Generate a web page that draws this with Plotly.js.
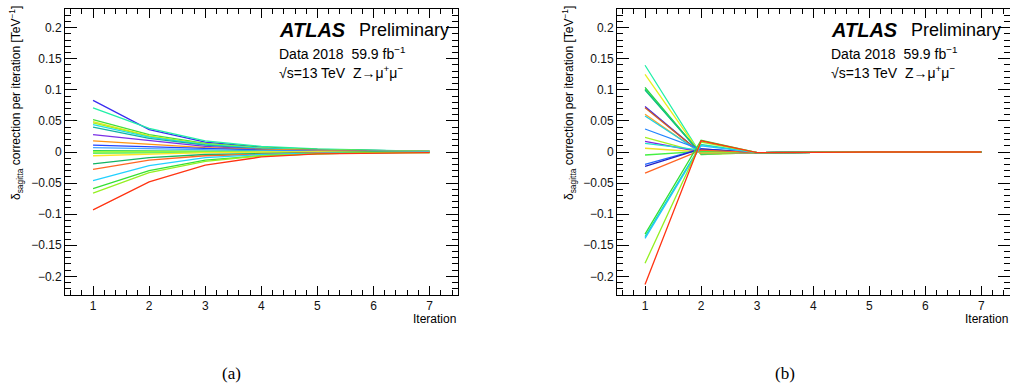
<!DOCTYPE html>
<html><head><meta charset="utf-8">
<script src="https://cdn.plot.ly/plotly-3.0.1.min.js"></script>
<style>html,body{margin:0;padding:0;background:#fff}#chart{width:1010px;height:391px}</style>
</head><body><div id="chart"></div>
<script>
const iterations = [1, 2, 3, 4, 5, 6, 7];
const xTickVals = [1, 2, 3, 4, 5, 6, 7];
const yTickVals = [-0.2, -0.15, -0.1, -0.05, 0, 0.05, 0.1, 0.15, 0.2];
const yTickText = ['\u22120.2', '\u22120.15', '\u22120.1', '\u22120.05', '0', '0.05', '0.1', '0.15', '0.2'];

// ---- panel (a): correction per iteration, one array per bin ----
const a01 = [0.083, 0.036, 0.016, 0.008, 0.004, 0.002, 0.001];
const a02 = [0.071, 0.038, 0.018, 0.009, 0.005, 0.003, 0.001];
const a03 = [0.052, 0.028, 0.014, 0.007, 0.004, 0.002, 0.001];
const a04 = [0.049, 0.026, 0.012, 0.006, 0.003, 0.002, 0.001];
const a05 = [0.047, 0.025, 0.013, 0.006, 0.003, 0.002, 0.001];
const a06 = [0.044, 0.024, 0.012, 0.006, 0.003, 0.002, 0.001];
const a07 = [0.040, 0.022, 0.011, 0.005, 0.003, 0.001, 0.001];
const a08 = [0.028, 0.018, 0.009, 0.004, 0.002, 0.001, 0.000];
const a09 = [0.018, 0.012, 0.007, 0.004, 0.002, 0.001, 0.001];
const a10 = [0.011, 0.008, 0.005, 0.003, 0.001, 0.001, 0.000];
const a11 = [0.007, 0.005, 0.003, 0.002, 0.001, 0.000, 0.000];
const a12 = [0.002, 0.002, 0.001, 0.001, 0.000, 0.000, 0.000];
const a13 = [0.000, 0.000, 0.000, 0.000, 0.000, 0.000, 0.000];
const a14 = [-0.002, -0.001, 0.000, 0.000, 0.000, 0.000, 0.000];
const a15 = [-0.006, -0.003, -0.001, 0.000, 0.000, 0.000, 0.000];
const a16 = [-0.019, -0.009, -0.004, -0.002, -0.001, 0.000, 0.000];
const a17 = [-0.028, -0.013, -0.006, -0.003, -0.001, -0.001, 0.000];
const a18 = [-0.046, -0.022, -0.009, -0.004, -0.002, -0.001, 0.000];
const a19 = [-0.059, -0.030, -0.013, -0.006, -0.003, -0.001, -0.001];
const a20 = [-0.066, -0.033, -0.015, -0.006, -0.003, -0.001, -0.001];
const a21 = [-0.093, -0.048, -0.021, -0.008, -0.003, -0.002, -0.001];

// ---- panel (b) ----
const b01 = [0.1395, -0.004, -0.001, 0, 0, 0, 0];
const b02 = [0.125, -0.004, -0.001, 0, 0, 0, 0];
const b03 = [0.104, -0.003, -0.001, 0, 0, 0, 0];
const b04 = [0.101, -0.003, -0.001, 0, 0, 0, 0];
const b05 = [0.0997, -0.003, -0.001, 0, 0, 0, 0];
const b06 = [0.073, -0.002, -0.001, 0, 0, 0, 0];
const b07 = [0.071, -0.002, -0.001, 0, 0, 0, 0];
const b08 = [0.0606, -0.002, -0.001, 0, 0, 0, 0];
const b09 = [0.058, -0.001, -0.001, 0, 0, 0, 0];
const b10 = [0.037, 0.004, -0.001, 0, 0, 0, 0];
const b11 = [0.0236, -0.001, -0.001, 0, 0, 0, 0];
const b12 = [0.017, 0.000, -0.001, 0, 0, 0, 0];
const b13 = [0.014, 0.003, -0.001, 0, 0, 0, 0];
const b14 = [0.006, 0.000, -0.001, 0, 0, 0, 0];
const b15 = [-0.0048, 0.001, -0.001, 0, 0, 0, 0];
const b16 = [-0.020, 0.005, -0.001, 0, 0, 0, 0];
const b17 = [-0.023, 0.005, -0.001, 0, 0, 0, 0];
const b18 = [-0.034, 0.003, -0.001, 0, 0, 0, 0];
const b19 = [-0.132, 0.019, -0.001, 0, 0, 0, 0];
const b20 = [-0.136, 0.012, -0.001, 0, 0, 0, 0];
const b21 = [-0.139, 0.010, -0.001, 0, 0, 0, 0];
const b22 = [-0.179, 0.016, -0.001, 0, 0, 0, 0];
const b23 = [-0.213, 0.018, -0.001, 0, 0, 0, 0];

const seriesA = [a01, a02, a03, a04, a05, a06, a07, a08, a09, a10, a11, a12, a13, a14, a15, a16, a17, a18, a19, a20, a21];
const seriesB = [b01, b02, b03, b04, b05, b06, b07, b08, b09, b10, b11, b12, b13, b14, b15, b16, b17, b18, b19, b20, b21, b22, b23];

// styles
const colorsA = ['#3a2cf0', '#22f0a8', '#44e03c', '#e8e820', '#a8f020', '#22e0e8', '#12b4a4', '#7a30e6', '#ff9412',
                 '#2244ff', '#44a8ff', '#30d850', '#a4ff22', '#64f064', '#ffe424', '#12b464', '#ff6624', '#22d0ff',
                 '#34e034', '#94f022', '#ff3412'];
const colorsB = ['#22f0a8', '#e8f020', '#22d044', '#34e054', '#12c084', '#4422e2', '#d06024', '#ffa424', '#22d0e0',
                 '#2284ff', '#a4f022', '#8424e2', '#22e0d0', '#f0e022', '#44f044', '#2264ff', '#2222c4', '#ff6424',
                 '#34e034', '#22e0a4', '#22c4ff', '#94f022', '#ff3412'];

const W = 1010, H = 391;
const px = v => v / W, py = v => 1 - v / H;

const traces = [];
seriesA.forEach((s, i) => traces.push({x: iterations, y: s, type: 'scatter', mode: 'lines', xaxis: 'x', yaxis: 'y',
  line: {color: colorsA[i], width: 1.3}, hoverinfo: 'skip', showlegend: false}));
seriesB.forEach((s, i) => traces.push({x: iterations, y: s, type: 'scatter', mode: 'lines', xaxis: 'x2', yaxis: 'y2',
  line: {color: colorsB[i], width: 1.3}, hoverinfo: 'skip', showlegend: false}));

const tickFont = {family: 'Liberation Sans, Arial, sans-serif', size: 12, color: '#111'};
function xax(dom, anchor) {
  return {domain: dom, anchor: anchor, range: [0.5, 7.5], tickmode: 'array', tickvals: xTickVals,
    ticks: 'inside', ticklen: 9, tickwidth: 1, tickcolor: '#000', showline: true, linecolor: '#000', linewidth: 1,
    mirror: 'allticks', showgrid: false, zeroline: false, tickfont: tickFont,
    minor: {ticks: 'inside', dtick: 0.2, tick0: 0, ticklen: 5, tickwidth: 1, tickcolor: '#000', showgrid: false}};
}
function yax(anchor) {
  return {domain: [py(295), py(9)], anchor: anchor, range: [-0.23, 0.23], tickmode: 'array', tickvals: yTickVals,
    ticktext: yTickText, ticks: 'inside', ticklen: 12, tickwidth: 1, tickcolor: '#000', showline: true,
    linecolor: '#000', linewidth: 1, mirror: 'allticks', showgrid: false, zeroline: false, tickfont: tickFont,
    minor: {ticks: 'inside', dtick: 0.01, tick0: 0, ticklen: 6, tickwidth: 1, tickcolor: '#000', showgrid: false}};
}

const sans = 'Liberation Sans, Arial, sans-serif';
const ytitle = '\u03b4<sub>sagitta</sub> correction per iteration [TeV<sup>\u22121</sup>]';
function panelText(x0, xr, ytx) {
  return [
    {x: px(x0), y: py(30), xref: 'paper', yref: 'paper', xanchor: 'left', yanchor: 'middle', showarrow: false,
     text: '<b><i>ATLAS</i></b>', font: {family: sans, size: 20, color: '#000'}},
    {x: px(x0 + 80), y: py(30), xref: 'paper', yref: 'paper', xanchor: 'left', yanchor: 'middle', showarrow: false,
     text: 'Preliminary', font: {family: sans, size: 18, color: '#000'}},
    {x: px(x0), y: py(53), xref: 'paper', yref: 'paper', xanchor: 'left', yanchor: 'middle', showarrow: false,
     text: 'Data 2018\u00a0\u00a059.9 fb<sup>\u22121</sup>', font: {family: sans, size: 14, color: '#000'}},
    {x: px(x0), y: py(72), xref: 'paper', yref: 'paper', xanchor: 'left', yanchor: 'middle', showarrow: false,
     text: '\u221as=13 TeV\u00a0\u00a0Z\u2192\u03bc<sup>+</sup>\u03bc<sup>\u2212</sup>', font: {family: sans, size: 14, color: '#000'}},
    {x: px(xr), y: py(319), xref: 'paper', yref: 'paper', xanchor: 'right', yanchor: 'middle', showarrow: false,
     text: 'Iteration', font: {family: sans, size: 12, color: '#000'}},
    {x: px(ytx), y: py(103), xref: 'paper', yref: 'paper', xanchor: 'center', yanchor: 'middle', showarrow: false,
     textangle: -90, text: ytitle, font: {family: sans, size: 12, color: '#000'}}
  ];
}

const annotations = [
  ...panelText(277, 458, 16),
  ...panelText(829, 1010, 569),
  {x: px(231), y: py(373), xref: 'paper', yref: 'paper', xanchor: 'center', yanchor: 'middle', showarrow: false,
   text: '(a)', font: {family: 'Liberation Serif, serif', size: 17, color: '#000'}},
  {x: px(785), y: py(373), xref: 'paper', yref: 'paper', xanchor: 'center', yanchor: 'middle', showarrow: false,
   text: '(b)', font: {family: 'Liberation Serif, serif', size: 17, color: '#000'}}
];

const layout = {
  width: W, height: H, margin: {l: 0, r: 0, t: 0, b: 0}, paper_bgcolor: '#fff', plot_bgcolor: '#fff',
  showlegend: false,
  xaxis: xax([px(65), px(457.7)], 'y'),
  yaxis: yax('x'),
  xaxis2: xax([px(617), px(1009.5)], 'y2'),
  yaxis2: yax('x2'),
  annotations: annotations
};

Plotly.newPlot('chart', traces, layout, {staticPlot: true, displayModeBar: false});
</script></body></html>
